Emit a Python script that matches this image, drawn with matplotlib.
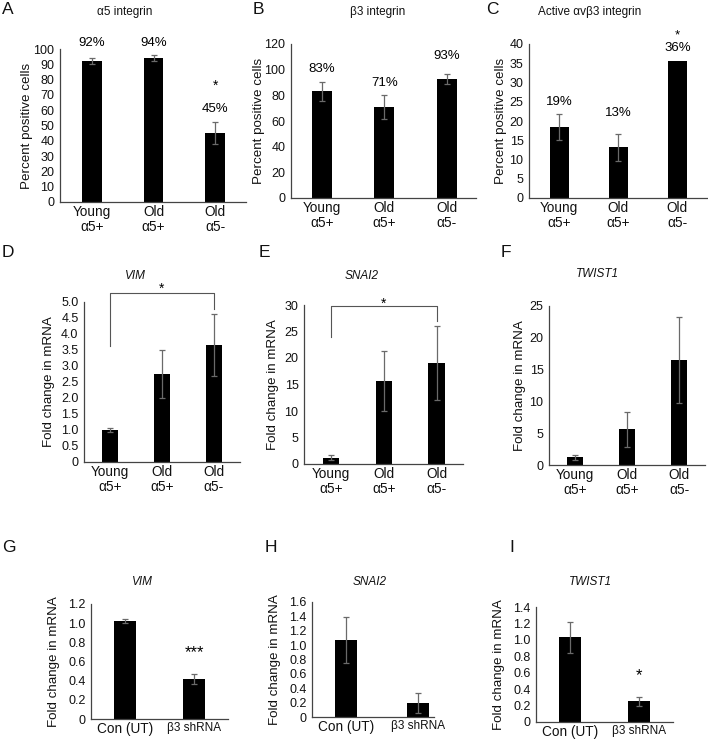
import matplotlib
matplotlib.use("Agg")
import matplotlib.pyplot as plt

plt.rcParams['font.family'] = ['Liberation Sans', 'DejaVu Sans']

W, H = 708, 740

# categories
groups_age = ['Young\nα5+', 'Old\nα5+', 'Old\nα5-']
groups_kd = ['Con (UT)', 'β3 shRNA']

# row 1: percent positive cells
a5_vals = [92, 94, 45]
a5_err = [2, 2, 7]
b3_vals = [83, 71, 93]
b3_err = [7.5, 9.5, 4]
avb3_vals = [18.5, 13.2, 35.5]
avb3_err = [3.4, 3.5, 0]

# row 2: fold change in mRNA, young vs old
vim_age = [1.0, 2.75, 3.65]
vim_age_err = [0.06, 0.75, 0.97]
snai2_age = [1.2, 15.7, 19.0]
snai2_age_err = [0.5, 5.7, 7.0]
twist1_age = [1.2, 5.6, 16.5]
twist1_age_err = [0.4, 2.7, 6.8]

# row 3: fold change in mRNA, knockdown
vim_kd = [1.02, 0.42]
vim_kd_err = [0.02, 0.05]
snai2_kd = [1.07, 0.2]
snai2_kd_err = [0.32, 0.14]
twist1_kd = [1.03, 0.25]
twist1_kd_err = [0.19, 0.05]

TICK_FS = 9.0
XTICK_FS = 9.8

fig = plt.figure(figsize=(W / 100, H / 100), dpi=100)


def px_axes(l, t, r, b):
    return fig.add_axes([l / W, 1 - b / H, (r - l) / W, (b - t) / H])


def bar_panel(box, labels, vals, errs, ylim, yticks, xlim, width=0.32, ndec=0):
    ax = px_axes(*box)
    x = list(range(len(vals)))
    ax.bar(x, vals, width=width, color='black', zorder=2)
    ex = [i for i in x if errs[i] > 0]
    ax.errorbar(ex, [vals[i] for i in ex], yerr=[errs[i] for i in ex], fmt='none',
                ecolor='#6a6a6a', elinewidth=0.9, capsize=2.2, capthick=0.9, zorder=3)
    ax.set_xlim(*xlim)
    ax.set_ylim(*ylim)
    ax.set_yticks(yticks)
    ax.set_yticklabels(['0' if t == 0 else f'{t:.{ndec}f}' for t in yticks])
    ax.set_xticks(x)
    ax.set_xticklabels(labels, linespacing=1.1)
    for s in ['top', 'right']:
        ax.spines[s].set_visible(False)
    for s in ['left', 'bottom']:
        ax.spines[s].set_color('#444444')
        ax.spines[s].set_linewidth(0.9)
    ax.tick_params(length=0, colors='#111111')
    ax.tick_params(axis='y', pad=4, labelsize=TICK_FS)
    ax.tick_params(axis='x', pad=2, labelsize=XTICK_FS)
    return ax


def ylabel(x, box, text):
    yc = (box[1] + box[3]) / 2
    fig.text(x / W, 1 - yc / H, text, rotation=90, ha='center', va='center',
             fontsize=9.6, color='#111111')


def title(x, y, text, italic=False):
    fig.text(x / W, 1 - y / H, text, ha='center', va='center', fontsize=8.5,
             style='italic' if italic else 'normal', color='#111111')


def letter(x, y, text):
    fig.text(x / W, 1 - y / H, text, ha='left', va='center', fontsize=12.5, color='#111111')


# ---- row 1 ----
boxA = (60, 49, 246, 202)
axA = bar_panel(boxA, groups_age, a5_vals, a5_err, (0, 100), list(range(0, 101, 10)), (-0.52, 2.5))
for i, v in enumerate(a5_vals):
    y = 104 if i < 2 else 61
    axA.text(i, y, f'{v}%', ha='center', va='center', fontsize=9.5, clip_on=False)
axA.text(2, 76, '*', ha='center', va='center', fontsize=10)
ylabel(27, boxA, 'Percent positive cells')
title(125, 12, 'α5 integrin')
letter(2, 10, 'A')

boxB = (291, 44, 476, 198)
axB = bar_panel(boxB, groups_age, b3_vals, b3_err, (0, 120), list(range(0, 121, 20)), (-0.5, 2.47))
for i, (v, y) in enumerate(zip(b3_vals, [100.5, 89.6, 111])):
    axB.text(i, y, f'{v}%', ha='center', va='center', fontsize=9.5, clip_on=False)
ylabel(259, boxB, 'Percent positive cells')
title(378, 12, 'β3 integrin')
letter(253, 10, 'B')

boxC = (529, 44, 708, 198)
axC = bar_panel(boxC, groups_age, avb3_vals, avb3_err, (0, 40), list(range(0, 41, 5)), (-0.51, 2.52))
for i, (v, y) in enumerate(zip(['19%', '13%', '36%'], [25, 22, 39])):
    axC.text(i, y, v, ha='center', va='center', fontsize=9.5, clip_on=False)
axC.text(2, 42.2, '*', ha='center', va='center', fontsize=9.5, clip_on=False)
ylabel(501, boxC, 'Percent positive cells')
title(590, 12, 'Active αvβ3 integrin')
letter(486, 10, 'C')

# ---- row 2 ----
boxD = (84, 302, 240, 462)
axD = bar_panel(boxD, groups_age, vim_age, vim_age_err, (0, 5), [0, 0.5, 1, 1.5, 2, 2.5, 3, 3.5, 4, 4.5, 5],
                (-0.5, 2.5), width=0.31, ndec=1)
axD.plot([0, 0, 2, 2], [3.62, 5.28, 5.28, 4.78], color='#555555', lw=0.8, clip_on=False)
axD.text(1, 5.40, '*', ha='center', va='center', fontsize=10, clip_on=False)
ylabel(49, boxD, 'Fold change in mRNA')
title(135, 276, 'VIM', italic=True)
letter(2, 253, 'D')

boxE = (304, 305, 463, 464)
axE = bar_panel(boxE, groups_age, snai2_age, snai2_age_err, (0, 30), list(range(0, 31, 5)),
                (-0.51, 2.5), width=0.31)
axE.plot([0, 0, 2, 2], [24, 29.8, 29.8, 27], color='#555555', lw=0.8, clip_on=False)
axE.text(1, 30.2, '*', ha='center', va='center', fontsize=10, clip_on=False)
ylabel(273, boxE, 'Fold change in mRNA')
title(362, 276, 'SNAI2', italic=True)
letter(259, 253, 'E')

boxF = (549, 306, 705, 465)
axF = bar_panel(boxF, groups_age, twist1_age, twist1_age_err, (0, 25), list(range(0, 26, 5)),
                (-0.5, 2.5), width=0.31)
ylabel(520, boxF, 'Fold change in mRNA')
title(597, 274, 'TWIST1', italic=True)
letter(501, 253, 'F')

# ---- row 3 ----
boxG = (91, 604, 228, 719)
axG = bar_panel(boxG, groups_kd, vim_kd, vim_kd_err, (0, 1.2), [0, 0.2, 0.4, 0.6, 0.8, 1.0, 1.2],
                (-0.49, 1.49), width=0.31, ndec=1)
axG.text(1, 0.69, '***', ha='center', va='center', fontsize=12)
ylabel(54, boxG, 'Fold change in mRNA')
title(142, 582, 'VIM', italic=True)
letter(2, 548, 'G')

boxH = (312, 602, 434, 717)
axH = bar_panel(boxH, groups_kd, snai2_kd, snai2_kd_err, (0, 1.6), [0, 0.2, 0.4, 0.6, 0.8, 1.0, 1.2, 1.4, 1.6],
                (-0.47, 1.22), width=0.31, ndec=1)
ylabel(275, boxH, 'Fold change in mRNA')
title(370, 582, 'SNAI2', italic=True)
letter(265, 548, 'H')

boxI = (536, 607, 673, 722)
axI = bar_panel(boxI, groups_kd, twist1_kd, twist1_kd_err, (0, 1.4), [0, 0.2, 0.4, 0.6, 0.8, 1.0, 1.2, 1.4],
                (-0.49, 1.49), width=0.31, ndec=1)
axI.text(1, 0.57, '*', ha='center', va='center', fontsize=12)
ylabel(499, boxI, 'Fold change in mRNA')
title(590, 582, 'TWIST1', italic=True)
letter(509, 548, 'I')

for ax in [axG, axH, axI]:
    for lab in ax.get_xticklabels():
        if 'β3' in lab.get_text():
            lab.set_fontsize(8.5)

fig.savefig('out.png', dpi=100, facecolor='white')
